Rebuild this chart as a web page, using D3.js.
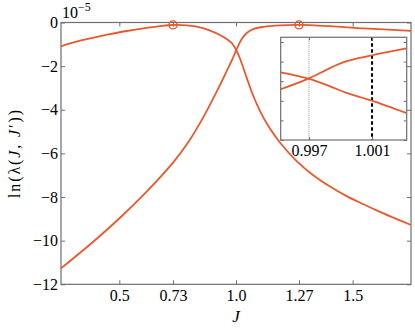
<!DOCTYPE html>
<html>
<head>
<meta charset="utf-8">
<script src="https://cdn.jsdelivr.net/npm/d3@7"></script>
<style>
  html, body { margin: 0; padding: 0; background: #fff; }
</style>
</head>
<body>
<svg id="chart" width="415" height="329"></svg>
<script>
// Branch peaking at J = 0.73 (values in units of 1e-5)
const jA = [0.250, 0.317, 0.388, 0.460, 0.532, 0.603, 0.674, 0.731, 0.789, 0.846,
  0.889, 0.931, 0.960, 0.982, 0.991, 1.001, 1.017, 1.046, 1.069, 1.096, 1.117,
  1.146, 1.189, 1.260, 1.331, 1.403, 1.474, 1.546, 1.617, 1.689, 1.750];
const lnA = [-1.09, -0.88, -0.70, -0.53, -0.39, -0.27, -0.17, -0.115, -0.13, -0.22,
  -0.37, -0.57, -0.76, -0.95, -1.09, -1.26, -1.65, -2.54, -3.23, -3.90, -4.35,
  -4.87, -5.51, -6.35, -7.00, -7.52, -7.96, -8.33, -8.68, -9.01, -9.28];

// Branch peaking at J = 1.27
const jB = [0.250, 0.388, 0.503, 0.617, 0.731, 0.796, 0.860, 0.917, 0.960, 0.982,
  1.001, 1.013, 1.026, 1.046, 1.074, 1.117, 1.189, 1.270, 1.403, 1.546, 1.750];
const lnB = [-11.27, -10.05, -8.95, -7.75, -6.41, -5.48, -4.34, -3.17, -2.23, -1.74,
  -1.26, -0.99, -0.73, -0.48, -0.30, -0.20, -0.13, -0.11, -0.17, -0.27, -0.38];

// Maxima marked with open circles
const markJ = [0.73, 1.27];
const markLn = [-0.11, -0.11];

const xTicks = [0.5, 0.73, 1.0, 1.27, 1.5];
const xTickLabels = ['0.5', '0.73', '1.0', '1.27', '1.5'];
const yTicks = [0, -2, -4, -6, -8, -10, -12];

// Inset: zoom on the crossing near J = 1 (vertical units arbitrary)
const insetJ = [0.9952, 0.99696, 0.99833, 0.99939, 1.00098, 1.0032];
const insetRise = [2.59, 3.13, 3.67, 4.02, 4.32, 4.67];
const insetFall = [3.45, 3.13, 2.74, 2.40, 2.01, 1.37];
const insetXTicks = [0.997, 1.001];
const insetYTicks = [0, 1, 2, 3, 4, 5];
const dottedJ = 0.997;
const dashedJ = 1.001;

const width = 415;
const height = 329;
const margin = {top: 22.5, right: 4, bottom: 44.7, left: 61};
const orange = '#e8592e';
const spine = '#6e6e6e';
const serif = 'Liberation Serif';

const svg = d3.select('#chart')
  .attr('font-family', serif);

const x = d3.scaleLinear()
  .domain([0.25, 1.75])
  .range([margin.left, width - margin.right]);
const y = d3.scaleLinear()
  .domain([-12, 0])
  .range([height - margin.bottom, margin.top]);

function styleAxis(g) {
  g.select('.domain').remove();
  g.attr('font-family', serif);
  g.selectAll('.tick line').attr('stroke', spine).attr('stroke-width', 1);
  g.selectAll('.tick text')
    .attr('font-size', 16)
    .attr('font-family', serif)
    .attr('fill', '#000');
}

// Main axes, ticks pointing inwards on all four sides
svg.append('g')
  .attr('transform', `translate(0,${height - margin.bottom})`)
  .call(d3.axisBottom(x).tickValues(xTicks)
    .tickFormat((d, i) => xTickLabels[i])
    .tickSizeInner(-4).tickSizeOuter(0).tickPadding(5.5))
  .call(styleAxis);
svg.append('g')
  .attr('transform', `translate(0,${margin.top})`)
  .call(d3.axisTop(x).tickValues(xTicks).tickFormat('')
    .tickSizeInner(-4).tickSizeOuter(0))
  .call(styleAxis);
svg.append('g')
  .attr('transform', `translate(${margin.left},0)`)
  .call(d3.axisLeft(y).tickValues(yTicks)
    .tickFormat((d) => d === 0 ? '0' : '\u2212' + Math.abs(d))
    .tickSizeInner(-4).tickSizeOuter(0).tickPadding(3))
  .call(styleAxis);
svg.append('g')
  .attr('transform', `translate(${width - margin.right},0)`)
  .call(d3.axisRight(y).tickValues(yTicks).tickFormat('')
    .tickSizeInner(-4).tickSizeOuter(0))
  .call(styleAxis);

svg.append('rect')
  .attr('x', margin.left)
  .attr('y', margin.top)
  .attr('width', width - margin.left - margin.right)
  .attr('height', height - margin.top - margin.bottom)
  .attr('fill', 'none')
  .attr('stroke', spine)
  .attr('stroke-width', 1.2);

// Curves
const line = d3.line()
  .x((d) => x(d[0]))
  .y((d) => y(d[1]))
  .curve(d3.curveCatmullRom.alpha(0.5));

svg.append('path')
  .datum(jA.map((j, i) => [j, lnA[i]]))
  .attr('d', line)
  .attr('fill', 'none')
  .attr('stroke', orange)
  .attr('stroke-width', 1.8);
svg.append('path')
  .datum(jB.map((j, i) => [j, lnB[i]]))
  .attr('d', line)
  .attr('fill', 'none')
  .attr('stroke', orange)
  .attr('stroke-width', 1.8);

svg.selectAll('circle.mark')
  .data(markJ)
  .join('circle')
  .attr('class', 'mark')
  .attr('cx', (d) => x(d))
  .attr('cy', (d, i) => y(markLn[i]))
  .attr('r', 4)
  .attr('fill', 'none')
  .attr('stroke', orange)
  .attr('stroke-width', 1.4);

// Scale factor and axis labels
const expo = svg.append('text')
  .attr('x', 62)
  .attr('y', 17.5)
  .attr('font-family', serif)
  .attr('font-size', 16);
expo.append('tspan').text('10');
expo.append('tspan')
  .attr('dy', -7)
  .attr('font-size', 12)
  .text('\u22125');

const ylab = svg.append('text')
  .attr('transform', 'translate(19.5,154) rotate(-90)')
  .attr('text-anchor', 'middle')
  .attr('font-family', serif)
  .attr('font-size', 16)
  .attr('textLength', 88)
  .attr('lengthAdjust', 'spacing');
ylab.append('tspan').text('ln(\u03bb(');
ylab.append('tspan').attr('font-style', 'italic').text('J');
ylab.append('tspan').text(', ');
ylab.append('tspan').attr('font-style', 'italic').text('J');
ylab.append('tspan').text('\u2032))');

svg.append('text')
  .attr('x', x(1.0))
  .attr('y', 321.5)
  .attr('text-anchor', 'middle')
  .attr('font-family', serif)
  .attr('font-size', 17)
  .attr('font-style', 'italic')
  .text('J');

// Inset
const inset = {left: 280.7, right: 406.7, top: 37.3, bottom: 140};
const xi = d3.scaleLinear()
  .domain([0.9952, 1.0032])
  .range([inset.left, inset.right]);
const yi = d3.scaleLinear()
  .domain([0, 5.24])
  .range([inset.bottom, inset.top]);

const gi = svg.append('g');
gi.append('rect')
  .attr('x', inset.left)
  .attr('y', inset.top)
  .attr('width', inset.right - inset.left)
  .attr('height', inset.bottom - inset.top)
  .attr('fill', '#fff');

gi.append('defs').append('clipPath')
  .attr('id', 'inset-clip')
  .append('rect')
  .attr('x', inset.left)
  .attr('y', inset.top)
  .attr('width', inset.right - inset.left)
  .attr('height', inset.bottom - inset.top);

gi.append('line')
  .attr('x1', xi(dottedJ)).attr('x2', xi(dottedJ))
  .attr('y1', inset.top).attr('y2', inset.bottom)
  .attr('stroke', '#b8b8b8')
  .attr('stroke-width', 1.5)
  .attr('stroke-dasharray', '1,1');
gi.append('line')
  .attr('x1', xi(dashedJ)).attr('x2', xi(dashedJ))
  .attr('y1', inset.top).attr('y2', inset.bottom)
  .attr('stroke', '#000')
  .attr('stroke-width', 2)
  .attr('stroke-dasharray', '3.5,2.5');

const lineI = d3.line()
  .x((d) => xi(d[0]))
  .y((d) => yi(d[1]))
  .curve(d3.curveCatmullRom.alpha(0.5));
[insetRise, insetFall].forEach((vals) => {
  gi.append('path')
    .datum(insetJ.map((j, i) => [j, vals[i]]))
    .attr('d', lineI)
    .attr('clip-path', 'url(#inset-clip)')
    .attr('fill', 'none')
    .attr('stroke', orange)
    .attr('stroke-width', 1.8);
});

gi.append('g')
  .attr('transform', `translate(0,${inset.bottom})`)
  .call(d3.axisBottom(xi).tickValues(insetXTicks).tickFormat(d3.format('.3f'))
    .tickSizeInner(-3).tickSizeOuter(0).tickPadding(5))
  .call(styleAxis);
gi.append('g')
  .attr('transform', `translate(0,${inset.top})`)
  .call(d3.axisTop(xi).tickValues(insetXTicks).tickFormat('')
    .tickSizeInner(-3).tickSizeOuter(0))
  .call(styleAxis);
gi.append('g')
  .attr('transform', `translate(${inset.left},0)`)
  .call(d3.axisLeft(yi).tickValues(insetYTicks).tickFormat('')
    .tickSizeInner(-3).tickSizeOuter(0))
  .call(styleAxis);
gi.append('g')
  .attr('transform', `translate(${inset.right},0)`)
  .call(d3.axisRight(yi).tickValues(insetYTicks).tickFormat('')
    .tickSizeInner(-3).tickSizeOuter(0))
  .call(styleAxis);

gi.append('rect')
  .attr('x', inset.left)
  .attr('y', inset.top)
  .attr('width', inset.right - inset.left)
  .attr('height', inset.bottom - inset.top)
  .attr('fill', 'none')
  .attr('stroke', spine)
  .attr('stroke-width', 1.2);
</script>
</body>
</html>
